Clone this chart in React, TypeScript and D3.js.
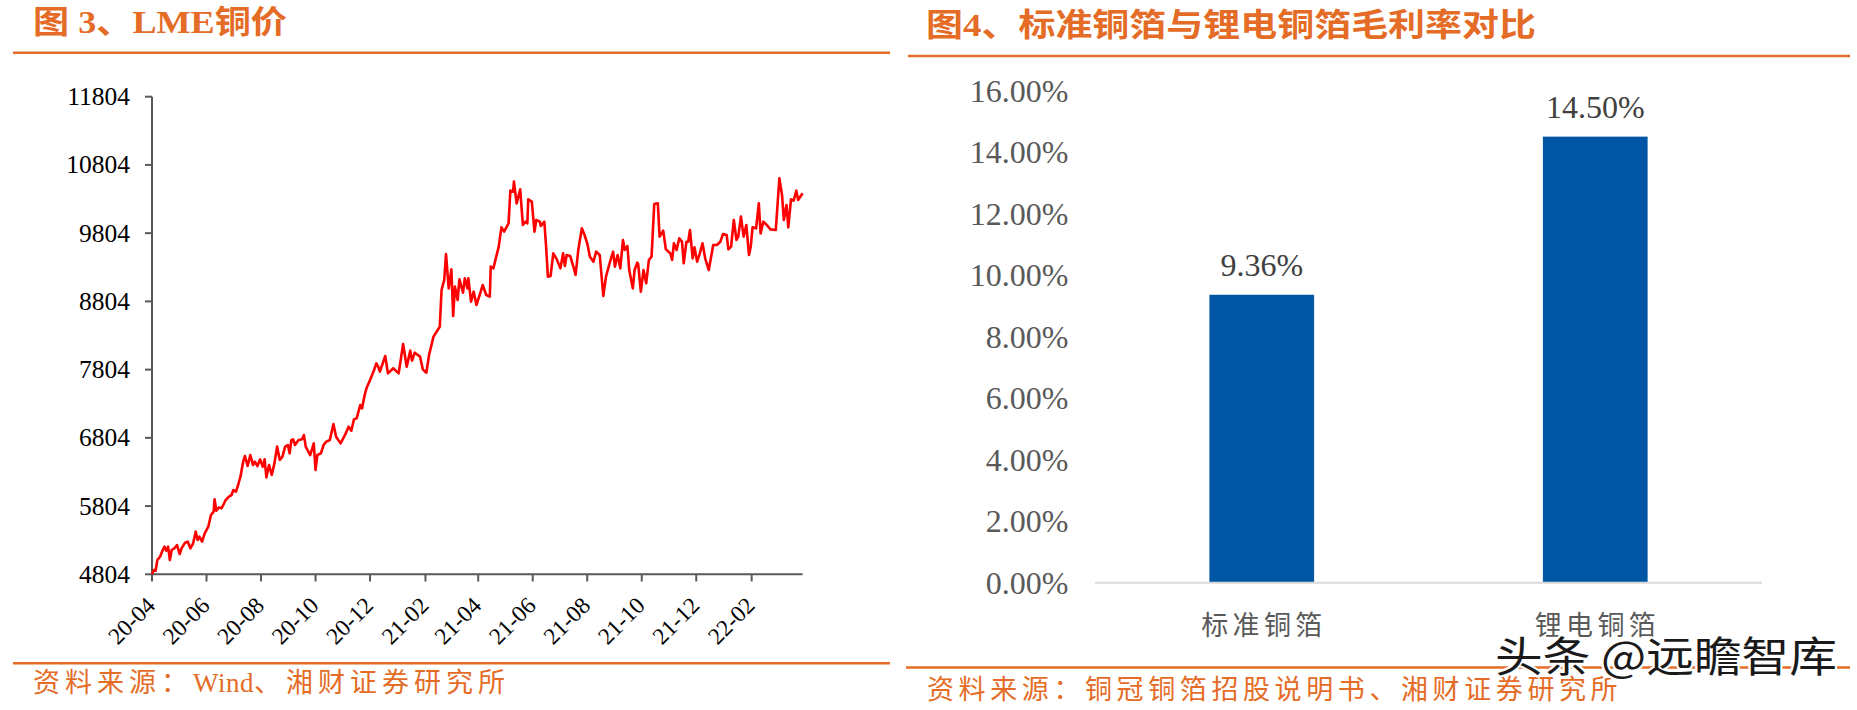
import React from "react";
import * as d3 from "d3";

// ---------- Data: LME copper (left chart) ----------
const lmeDates = [
  "2020-04-01","2020-04-03","2020-04-05","2020-04-07","2020-04-10","2020-04-13","2020-04-15","2020-04-17","2020-04-19","2020-04-21","2020-04-23","2020-04-26","2020-04-29",
  "2020-05-02","2020-05-04","2020-05-08","2020-05-11","2020-05-14","2020-05-17","2020-05-20","2020-05-22","2020-05-24","2020-05-27","2020-05-30",
  "2020-06-03","2020-06-06","2020-06-09","2020-06-10","2020-06-12","2020-06-15","2020-06-18","2020-06-22","2020-06-26","2020-06-29",
  "2020-07-01","2020-07-04","2020-07-06","2020-07-09","2020-07-12","2020-07-14","2020-07-17","2020-07-20","2020-07-23","2020-07-25","2020-07-28","2020-07-31",
  "2020-08-03","2020-08-05","2020-08-07","2020-08-10","2020-08-13","2020-08-16","2020-08-19","2020-08-22","2020-08-25","2020-08-28","2020-08-31",
  "2020-09-02","2020-09-04","2020-09-06","2020-09-08","2020-09-12","2020-09-16","2020-09-18","2020-09-20","2020-09-25","2020-09-29",
  "2020-10-01","2020-10-03","2020-10-07","2020-10-10","2020-10-13","2020-10-17","2020-10-21","2020-10-24","2020-10-29",
  "2020-11-03","2020-11-07","2020-11-10","2020-11-13","2020-11-16","2020-11-20","2020-11-22","2020-11-25","2020-11-27",
  "2020-12-01","2020-12-05","2020-12-08","2020-12-10","2020-12-12","2020-12-18","2020-12-21","2020-12-27",
  "2021-01-02","2021-01-07","2021-01-11","2021-01-15","2021-01-17","2021-01-20","2021-01-26","2021-01-29",
  "2021-02-02","2021-02-05","2021-02-10","2021-02-17","2021-02-19","2021-02-22","2021-02-24","2021-02-27",
  "2021-03-02","2021-03-04","2021-03-06","2021-03-09","2021-03-11","2021-03-15","2021-03-17","2021-03-20","2021-03-21","2021-03-24","2021-03-27","2021-03-30",
  "2021-04-03","2021-04-06","2021-04-10","2021-04-14","2021-04-15","2021-04-18","2021-04-21","2021-04-24","2021-04-27","2021-04-30",
  "2021-05-05","2021-05-07","2021-05-10","2021-05-11","2021-05-14","2021-05-18","2021-05-21","2021-05-24","2021-05-26","2021-05-27","2021-05-31",
  "2021-06-03","2021-06-05","2021-06-09","2021-06-10","2021-06-14","2021-06-16","2021-06-18","2021-06-21","2021-06-24","2021-06-28",
  "2021-07-02","2021-07-05","2021-07-07","2021-07-09","2021-07-13","2021-07-16","2021-07-19","2021-07-22","2021-07-26","2021-07-29",
  "2021-08-01","2021-08-04","2021-08-08","2021-08-11","2021-08-15","2021-08-19","2021-08-22","2021-08-26","2021-08-30",
  "2021-09-01","2021-09-04","2021-09-07","2021-09-10","2021-09-12","2021-09-15","2021-09-17","2021-09-21","2021-09-23","2021-09-26","2021-09-27","2021-09-30",
  "2021-10-03","2021-10-06","2021-10-09","2021-10-12","2021-10-15","2021-10-19","2021-10-21","2021-10-25","2021-10-28",
  "2021-11-02","2021-11-04","2021-11-06","2021-11-09","2021-11-12","2021-11-15","2021-11-17","2021-11-20","2021-11-22","2021-11-24","2021-11-27","2021-11-29",
  "2021-12-02","2021-12-05","2021-12-08","2021-12-11","2021-12-15","2021-12-18","2021-12-20","2021-12-24","2021-12-28","2021-12-31",
  "2022-01-04","2022-01-06","2022-01-09","2022-01-12","2022-01-15","2022-01-17","2022-01-20","2022-01-23","2022-01-26","2022-01-29","2022-01-31",
  "2022-02-02","2022-02-06","2022-02-09","2022-02-11","2022-02-14","2022-02-18","2022-02-22","2022-02-28",
  "2022-03-04","2022-03-07","2022-03-09","2022-03-12","2022-03-14","2022-03-17","2022-03-20","2022-03-23","2022-03-25","2022-03-30",
];
const lmeValues = [
  4805,4867,4857,5013,5062,5160,5209,5150,5209,5013,5160,5184,5233,
  5101,5184,5267,5282,5184,5258,5429,5306,5355,5282,5404,
  5502,5673,5722,5903,5736,5785,5771,5883,5942,5966,
  6039,6015,6098,6235,6455,6538,6391,6552,6406,6455,6391,6489,
  6381,6489,6225,6406,6259,6430,6675,6479,6528,6675,6699,
  6577,6772,6782,6699,6772,6782,6846,6675,6552,6723,
  6333,6552,6577,6699,6748,6772,7007,6821,6723,
  6846,6968,6909,7075,7090,7285,7236,7432,7530,
  7652,7780,7896,7850,7774,8003,7749,7823,
  7749,8179,7847,8082,7935,8052,7994,7808,
  7759,8018,8287,8433,8971,9117,9498,8995,
  9274,8590,9020,8824,9127,8932,9142,8995,9142,8800,8946,8751,
  8912,9044,8898,8873,9313,9288,9450,9606,9889,9826,
  9948,10427,10412,10559,10241,10446,9924,9972,9948,10300,10266,
  9826,9997,9972,9909,9972,9606,9166,9176,9508,9420,
  9288,9508,9323,9484,9469,9337,9191,9557,9875,9777,
  9655,9459,9386,9533,9484,8883,9166,9362,9533,
  9313,9484,9288,9704,9557,9616,9264,8995,9264,9371,9352,8946,
  9264,9069,9411,9459,10231,10241,9753,9840,9567,
  9508,9411,9655,9557,9728,9679,9362,9679,9679,9850,9435,9596,
  9386,9508,9655,9435,9264,9484,9630,9630,9679,9792,
  9777,9567,9606,9997,9704,9753,10046,9753,9924,9484,9606,
  9889,9875,10241,9801,9972,9924,9860,9850,
  10608,10363,9997,10217,9889,10300,10280,10427,10290,10388,
];
const lmeTickDates = [
  "2020-04-01","2020-06-01","2020-08-01","2020-10-01","2020-12-01","2021-02-01",
  "2021-04-01","2021-06-01","2021-08-01","2021-10-01","2021-12-01","2022-02-01",
];
const lmeTickLabels = ["20-04","20-06","20-08","20-10","20-12","21-02","21-04","21-06","21-08","21-10","21-12","22-02"];
const lmeYTicks = [4804, 5804, 6804, 7804, 8804, 9804, 10804, 11804];

// ---------- Data: gross margin (right chart) ----------
const marginCategories = ["标准铜箔", "锂电铜箔"];
const marginValues = [0.0936, 0.145];
const marginYTicks = [0, 0.02, 0.04, 0.06, 0.08, 0.1, 0.12, 0.14, 0.16];

// ---------- Texts ----------
const leftTitle = "图 3、LME铜价";
const rightTitle = "图4、标准铜箔与锂电铜箔毛利率对比";
const leftSourceHead = "资料来源：";
const leftSourceLatin = "Wind";
const leftSourceTail = "、湘财证券研究所";
const rightSource = "资料来源：铜冠铜箔招股说明书、湘财证券研究所";
const watermark = "头条 @远瞻智库";

const ORANGE = "#E46C26";
const SERIF = "'Liberation Serif','Times New Roman',serif";
const MIXED = "'Liberation Serif','Noto Sans CJK SC',sans-serif";
const CJK = "'Noto Sans CJK SC',sans-serif";

export default function App() {
  const parse = d3.utcParse("%Y-%m-%d");
  const pts = lmeDates.map((d, i) => ({ date: parse(d) as Date, value: lmeValues[i] }));

  // left chart scales
  const x = d3
    .scaleUtc()
    .domain(d3.extent(pts, (p) => p.date) as [Date, Date])
    .range([152, 802.6]);
  const y = d3
    .scaleLinear()
    .domain([lmeYTicks[0], lmeYTicks[lmeYTicks.length - 1]])
    .range([574.3, 96.7]);
  const line = d3
    .line<{ date: Date; value: number }>()
    .x((p) => x(p.date))
    .y((p) => y(p.value));

  // right chart scales
  const yR = d3.scaleLinear().domain([0, 0.16]).range([582.7, 90.5]);
  const xR = d3
    .scaleBand<string>()
    .domain(marginCategories)
    .range([1095, 1762])
    .paddingInner(0.686)
    .paddingOuter(0.343);
  const pct = d3.format(".2%");

  const axisColor = "#595959";

  return (
    <svg
      width={1857}
      height={710}
      style={{ position: "absolute", left: 0, top: 0, background: "#fff" }}
    >
      <rect x={0} y={0} width={1857} height={710} fill="#fff" />

      {/* ===== Left panel ===== */}
      <text
        x={33}
        y={32.5}
        fontFamily={MIXED}
        fontWeight="bold"
        fontSize={32}
        fill={ORANGE}
        textLength={254}
        lengthAdjust="spacingAndGlyphs"
      >
        {leftTitle}
      </text>
      <line x1={13} x2={890} y1={52.7} y2={52.7} stroke={ORANGE} strokeWidth={2.6} />

      {/* y axis */}
      <line x1={152} x2={152} y1={y(lmeYTicks[lmeYTicks.length - 1])} y2={y(lmeYTicks[0])} stroke={axisColor} strokeWidth={2} />
      {lmeYTicks.map((t) => (
        <g key={t}>
          <line x1={145} x2={152} y1={y(t)} y2={y(t)} stroke={axisColor} strokeWidth={2} />
          <text x={130} y={y(t) + 8.5} textAnchor="end" fontFamily={SERIF} fontSize={25.5} fill="#000">
            {t}
          </text>
        </g>
      ))}

      {/* x axis */}
      <line x1={152} x2={802.6} y1={574.3} y2={574.3} stroke={axisColor} strokeWidth={2} />
      {lmeTickDates.map((d, i) => {
        const tx = x(parse(d) as Date);
        return (
          <g key={d}>
            <line x1={tx} x2={tx} y1={574.3} y2={581.5} stroke={axisColor} strokeWidth={2} />
            <text
              transform={`translate(${tx + 4.5},${607}) rotate(-45)`}
              textAnchor="end"
              fontFamily={SERIF}
              fontSize={23.5}
              fill="#000"
            >
              {lmeTickLabels[i]}
            </text>
          </g>
        );
      })}

      <path d={line(pts) || ""} fill="none" stroke="#FF0000" strokeWidth={2.6} strokeLinejoin="round" />

      <line x1={13} x2={890} y1={663.3} y2={663.3} stroke={ORANGE} strokeWidth={2.6} />
      <text x={33} y={692} fontFamily={MIXED} fontSize={27} fill={ORANGE} letterSpacing={5}>
        {leftSourceHead}
        <tspan letterSpacing={0.5}>{leftSourceLatin}</tspan>
        {leftSourceTail}
      </text>

      {/* ===== Right panel ===== */}
      <text
        x={926}
        y={35.5}
        fontFamily={MIXED}
        fontWeight="bold"
        fontSize={32}
        fill={ORANGE}
        textLength={610}
        lengthAdjust="spacingAndGlyphs"
      >
        {rightTitle}
      </text>
      <line x1={908} x2={1850} y1={56} y2={56} stroke={ORANGE} strokeWidth={2.6} />

      {marginYTicks.map((t) => (
        <text key={t} x={1068.5} y={yR(t) + 11} textAnchor="end" fontFamily={SERIF} fontSize={32} fill={axisColor}>
          {pct(t)}
        </text>
      ))}

      {marginCategories.map((c, i) => (
        <g key={c}>
          <rect
            x={xR(c)}
            y={yR(marginValues[i])}
            width={xR.bandwidth()}
            height={yR(0) - yR(marginValues[i])}
            fill="#0055A5"
          />
          <text
            x={(xR(c) as number) + xR.bandwidth() / 2}
            y={yR(marginValues[i]) - 18.5}
            textAnchor="middle"
            fontFamily={SERIF}
            fontSize={32}
            fill="#404040"
          >
            {pct(marginValues[i])}
          </text>
          <text
            x={(xR(c) as number) + xR.bandwidth() / 2}
            y={635}
            textAnchor="middle"
            fontFamily={CJK}
            fontSize={27}
            fill={axisColor}
            textLength={121}
            lengthAdjust="spacing"
          >
            {c}
          </text>
        </g>
      ))}
      <line x1={1095} x2={1762} y1={yR(0)} y2={yR(0)} stroke="#D9D9D9" strokeWidth={2} />

      <line x1={906} x2={1850} y1={667.5} y2={667.5} stroke={ORANGE} strokeWidth={2.6} />
      <text x={927} y={699} fontFamily={MIXED} fontSize={27} fill={ORANGE} letterSpacing={4.6}>
        {rightSource}
      </text>

      {/* watermark */}
      <text
        x={1495}
        y={672}
        fontFamily={CJK}
        fontSize={42}
        fill="#1a1a1a"
        stroke="#ffffff"
        strokeWidth={4}
        paintOrder="stroke"
        textLength={342}
        lengthAdjust="spacingAndGlyphs"
      >
        {watermark}
      </text>
    </svg>
  );
}
